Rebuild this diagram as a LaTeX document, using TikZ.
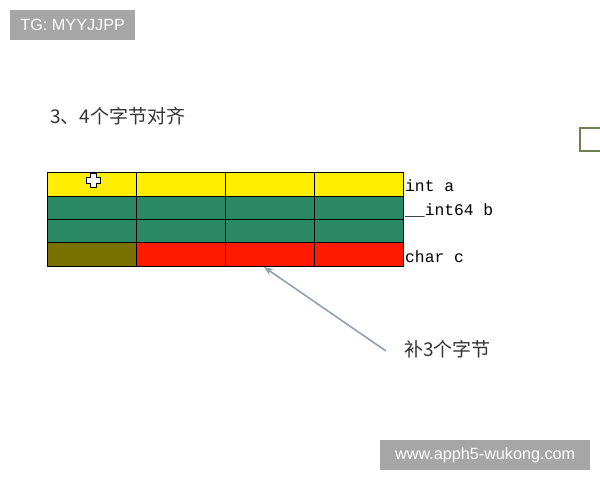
\documentclass[tikz,border=0pt]{standalone}
\usepackage{fontspec}
\setmainfont{Liberation Serif}
\setsansfont{Liberation Sans}
\setmonofont{Liberation Mono}
\newfontfamily\cjk{Noto Sans CJK SC}
\usetikzlibrary{arrows.meta}
\definecolor{cyel}{HTML}{FFEE00}
\definecolor{cgrn}{HTML}{2A8866}
\definecolor{colv}{HTML}{7A7000}
\definecolor{cred}{HTML}{FF1A00}
\definecolor{wmgray}{HTML}{A6A6A6}
\definecolor{arrowc}{HTML}{8EA2B3}
\definecolor{boxgrn}{HTML}{6E7F50}
\begin{document}
\begin{tikzpicture}[x=1pt,y=-1pt,
  cell/.style={draw=black,line width=0.9pt,minimum width=89pt,minimum height=23.5pt,inner sep=0pt,outer sep=0pt,anchor=north west},
  wm/.style={fill=wmgray,text=white,font=\sffamily\fontsize{16.2}{18}\selectfont,inner sep=0pt,anchor=north west},
  lbl/.style={font=\ttfamily\fontsize{16.3}{18}\selectfont,anchor=west,inner sep=0pt},
  cjklbl/.style={font=\cjk\fontsize{19}{21}\selectfont,text=black!80,inner sep=0pt}]
\useasboundingbox (0,0) rectangle (600,480);
\fill[white] (0,0) rectangle (600,480);
% watermarks
\node[wm,minimum width=125pt,minimum height=30pt] (wm1) at (10,10) {TG: MYYJJPP};
\node[wm,minimum width=210pt,minimum height=30pt] (wm2) at (380,440) {www.apph5-wukong.com};
% title
\node[cjklbl,anchor=west] (title) at (50,116) {3、4个字节对齐};
% table
\foreach \c [count=\i] in {47,136,225,314}{
  \node[cell,fill=cyel] (a\i) at (\c,172.5) {};
  \node[cell,fill=cgrn] (b\i) at (\c,196) {};
  \node[cell,fill=cgrn] (d\i) at (\c,219) {};
}
\node[cell,fill=colv] (c1) at (47,242.5) {};
\node[cell,fill=cred] (c2) at (136,242.5) {};
\node[cell,fill=cred] (c3) at (225,242.5) {};
\node[cell,fill=cred] (c4) at (314,242.5) {};
% labels
\node[lbl] (la) at (405,186) {int a};
\node[lbl] (lb) at (405,210) {\_\_int64 b};
\node[lbl] (lc) at (405,257) {char c};
% note
\node[cjklbl,anchor=west] (note) at (404,349) {补3个字节};
\coordinate (tip) at (264,267);
\coordinate (tail) at (386,351);
\draw[arrowc,line width=1.6pt,-{Stealth[length=9pt,width=7pt]}] (tail) -- (tip);
% cursor
\draw[black,fill=white,line width=1pt]
  (90,173.5) -- (96,173.5) -- (96,177.5) -- (100,177.5) -- (100,183.5) -- (96,183.5) -- (96,187.5)
  -- (90,187.5) -- (90,183.5) -- (86,183.5) -- (86,177.5) -- (90,177.5) -- cycle;
% partial green box at right edge
\node[draw=boxgrn,line width=2.4pt,fill=white,minimum width=30pt,minimum height=23pt,anchor=north west,inner sep=0pt] (gbox) at (579,127) {};
\end{tikzpicture}
\end{document}
